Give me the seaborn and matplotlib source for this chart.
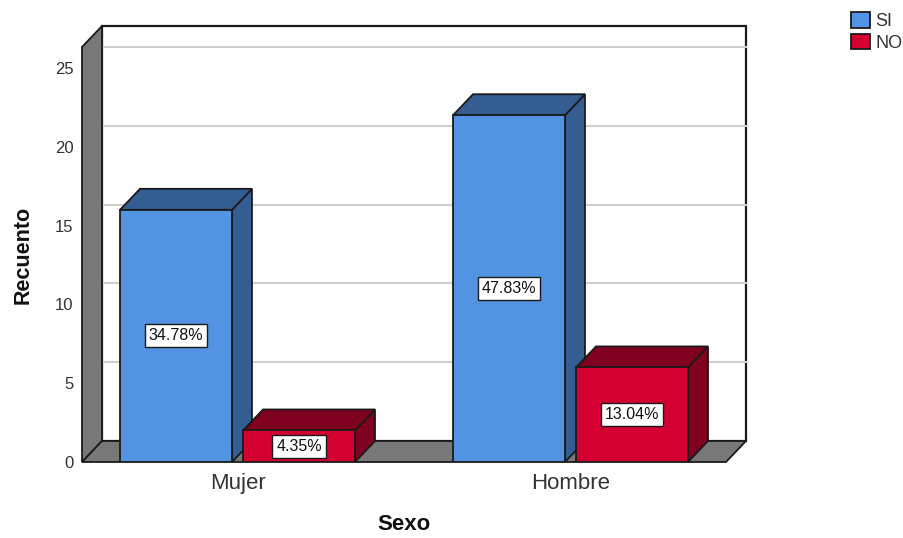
#!/usr/bin/env python3

import matplotlib
matplotlib.use("Agg")
import matplotlib.pyplot as plt
import seaborn as sns
import pandas as pd
from matplotlib.patches import Polygon, Patch
from matplotlib.transforms import ScaledTranslation

categories = ["Mujer", "Hombre"]
groups = ["SI", "NO"]
si_counts = [16, 22]
no_counts = [2, 6]
si_labels = ["34.78%", "47.83%"]
no_labels = ["4.35%", "13.04%"]
y_ticks = [0, 5, 10, 15, 20, 25]

colors = {"SI": "#5294E2", "NO": "#D50032"}
side_colors = {"SI": "#345E91", "NO": "#800020"}
EDGE = "#1a1a1a"
WALL = "#787878"
GRID = "#cfcfcf"
FONT = "Liberation Sans"

W, H = 904, 538
DPI = 100
DX, DY = 20, 21  # depth of the fake 3D, in pixels
FRONT = (82, 726, 462, 47)  # left, right, bottom, top of the front plane

plt.rcParams["font.family"] = [FONT, "DejaVu Sans"]

df = pd.DataFrame({
    "Sexo": categories * 2,
    "grupo": [groups[0]] * 2 + [groups[1]] * 2,
    "Recuento": si_counts + no_counts,
})

fig = plt.figure(figsize=(W / DPI, H / DPI), dpi=DPI)
l, r, b, t = FRONT
ax = fig.add_axes([l / W, 1 - b / H, (r - l) / W, (b - t) / H])
ax.patch.set_visible(False)

sns.barplot(data=df, x="Sexo", y="Recuento", hue="grupo", order=categories,
            hue_order=groups, palette=colors, width=0.739, gap=0.09,
            edgecolor=EDGE, linewidth=1.3, saturation=1, legend=False,
            ax=ax, zorder=5)

ax.set_xlim(-0.467, 1.467)
ax.set_ylim(0, 26.33)
ax.set_yticks(y_ticks)
for s in ax.spines.values():
    s.set_visible(False)

# offset transform that pushes data coordinates back to the rear plane
back = ax.transData + ScaledTranslation(DX / DPI, DY / DPI, fig.dpi_scale_trans)
x0, x1 = ax.get_xlim()
y0, y1 = ax.get_ylim()


def corner(x, y, rear=False):
    """Display coordinates of a data point on the front or the rear plane"""
    return (back if rear else ax.transData).transform((x, y))


def face(points, color, zorder, lw=1.3):
    fig.add_artist(Polygon(points, closed=True, facecolor=color, edgecolor=EDGE,
                           linewidth=lw, transform=None, zorder=zorder))


# walls and floor
face([corner(x0, y0, True), corner(x1, y0, True), corner(x1, y1, True), corner(x0, y1, True)],
     "white", 0.5, lw=1.6)
for v in y_ticks[1:]:
    a, c = corner(x0, v, True), corner(x1, v, True)
    fig.add_artist(plt.Line2D([a[0], c[0]], [a[1], c[1]], color=GRID, linewidth=1.5,
                              transform=None, zorder=0.6))
face([corner(x0, y0), corner(x0, y1), corner(x0, y1, True), corner(x0, y0, True)], WALL, 0.7)
face([corner(x0, y0), corner(x1, y0), corner(x1, y0, True), corner(x0, y0, True)], WALL, 0.8)

# bars: top and side faces built from the seaborn bars, front face kept on top
ax.set_zorder(3)
bars = [p for p in ax.patches]
names = [g for g in groups for _ in categories]
texts = si_labels + no_labels
for bar, name, label in zip(bars, names, texts):
    xa, xb = bar.get_x(), bar.get_x() + bar.get_width()
    h = bar.get_height()
    face([corner(xb, 0), corner(xb, h), corner(xb, h, True), corner(xb, 0, True)],
         side_colors[name], 1)
    face([corner(xa, h), corner(xb, h), corner(xb, h, True), corner(xa, h, True)],
         side_colors[name], 1)
    ax.text((xa + xb) / 2, h / 2, label, ha="center", va="center", fontsize=11.5,
            color="#111111", zorder=10,
            bbox=dict(boxstyle="square,pad=0.25", facecolor="white", edgecolor=EDGE, linewidth=1))

ax.tick_params(axis="x", length=0, labelsize=16, pad=8, labelcolor="#333333")
ax.tick_params(axis="y", length=0, labelsize=12, pad=6, labelcolor="#333333")
ax.set_xlabel("Sexo", fontsize=16, fontweight="bold", labelpad=14, color="#111111")
ax.set_ylabel("Recuento", fontsize=15.5, fontweight="bold", labelpad=15.5, color="#111111")

handles = [Patch(facecolor=colors[g], edgecolor=EDGE, linewidth=1.3, label=g) for g in groups]
fig.legend(handles=handles, loc="upper left", bbox_to_anchor=(851 / W, 1 - 12 / H), frameon=False,
           fontsize=13, handlelength=1.05, handleheight=0.95, handletextpad=0.3,
           labelspacing=0.2, borderpad=0, borderaxespad=0, labelcolor="#333333")

fig.savefig("out.png", dpi=DPI)
